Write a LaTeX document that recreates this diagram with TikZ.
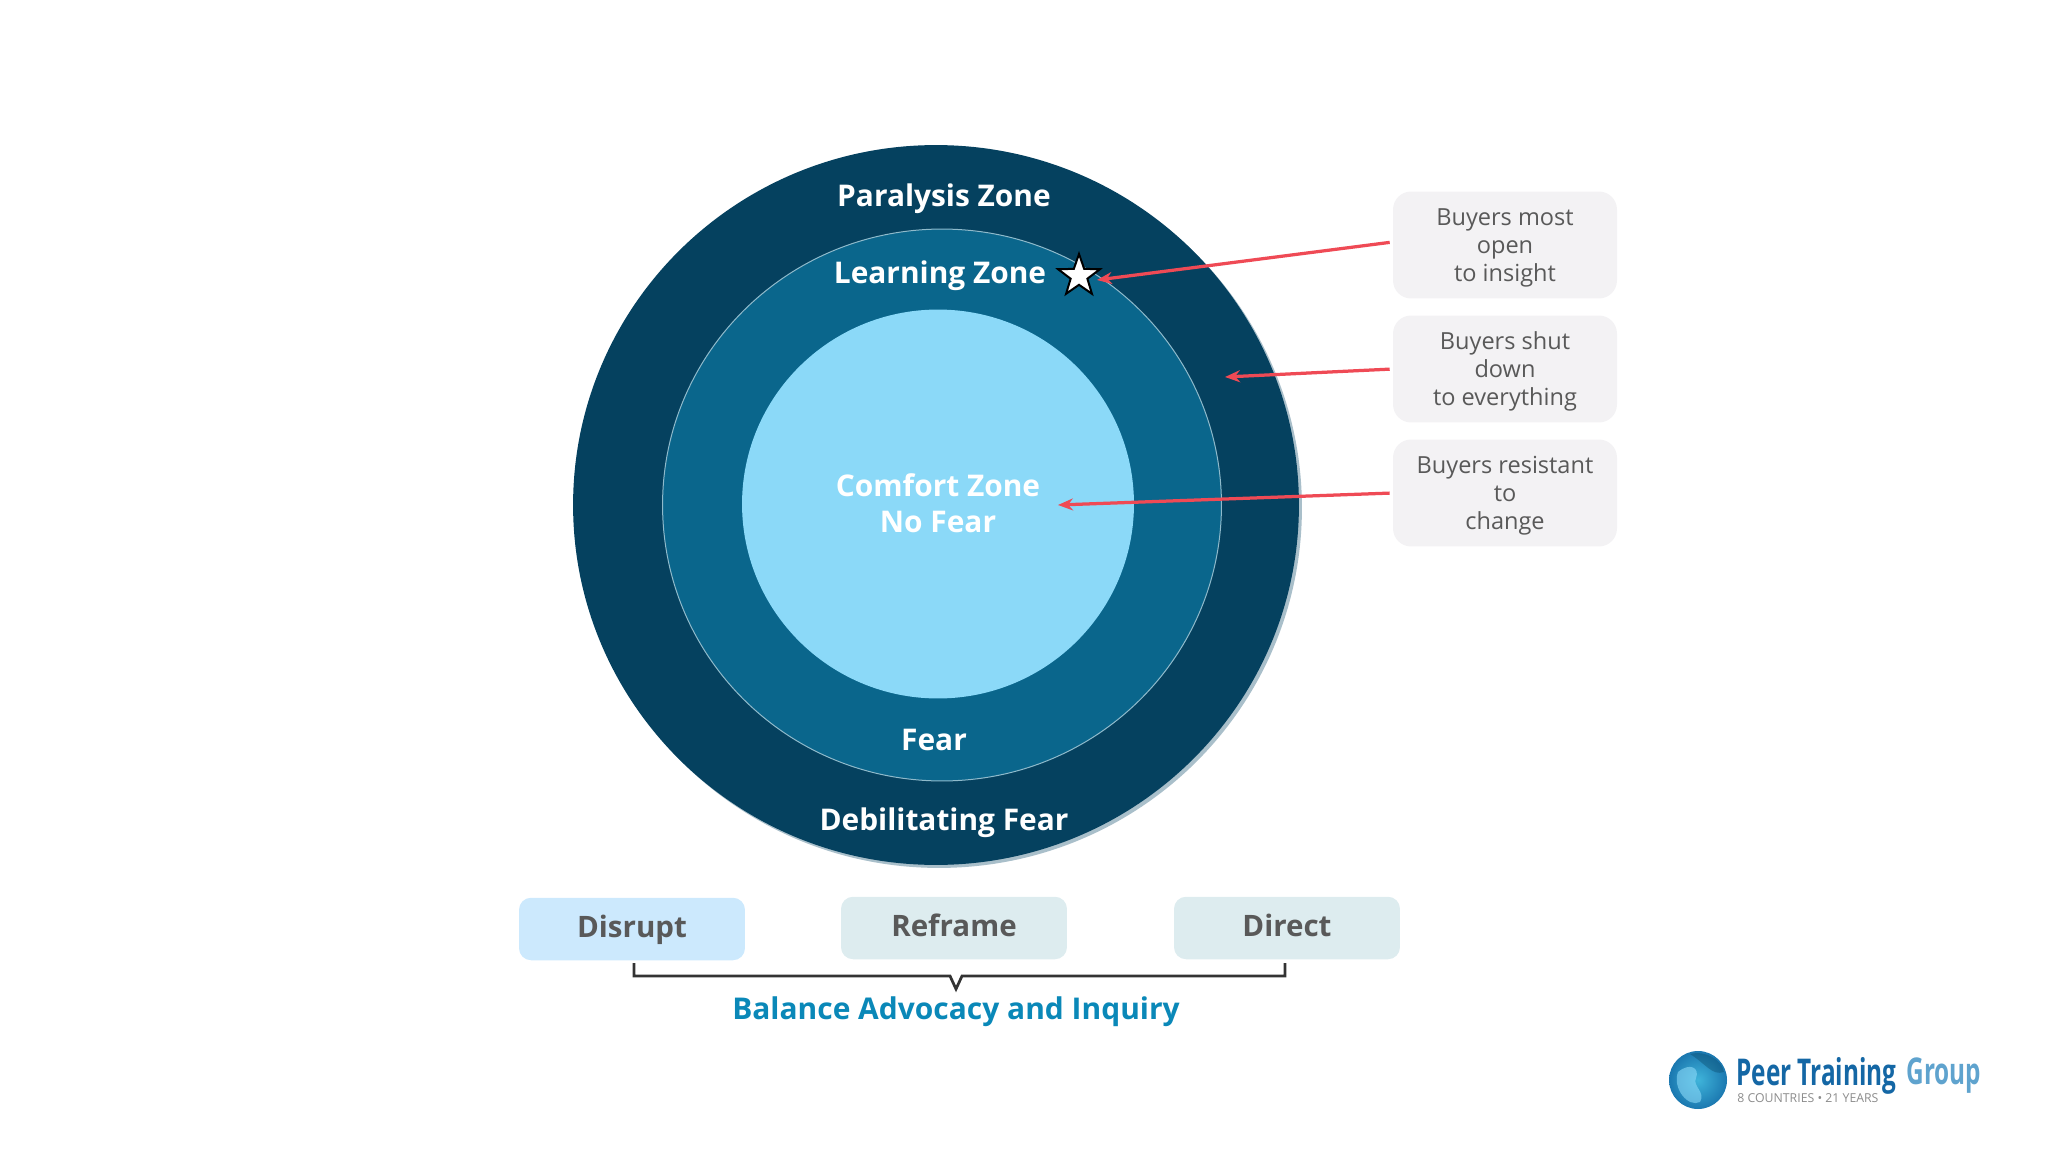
\documentclass[tikz,border=0pt]{standalone}
\usepackage{fontspec}
\usepackage{xcolor}
\usepackage{tikz}
\usetikzlibrary{calc,arrows.meta,shapes.geometric}
\setmainfont{Open Sans}
\newfontfamily\logofont[FakeStretch=0.66]{Open Sans}
\definecolor{outerzone}{HTML}{05415F}
\definecolor{midzone}{HTML}{0A668C}
\definecolor{innerzone}{HTML}{8BD9F8}
\definecolor{ringline}{HTML}{8FBACB}
\definecolor{ringshadow}{HTML}{A9BFCA}
\definecolor{notebg}{HTML}{F3F2F4}
\definecolor{disruptbg}{HTML}{CCE9FD}
\definecolor{movebg}{HTML}{DDECEF}
\definecolor{greytext}{HTML}{595959}
\definecolor{balance}{HTML}{0A88B8}
\definecolor{redline}{HTML}{EF4A55}
\definecolor{bracket}{HTML}{333333}
\definecolor{logodark}{HTML}{1467A5}
\definecolor{logolight}{HTML}{5FA3CE}
\definecolor{logogrey}{HTML}{8C8C8C}
\definecolor{globein}{HTML}{3FB4DA}
\definecolor{globeout}{HTML}{1B78B0}
\tikzset{
  zone/.style={ellipse, inner sep=0pt},
  zonelab/.style={text=white, font=\fontsize{17}{20.5}\selectfont\bfseries, align=center},
  note/.style={rounded corners=0.36cm, fill=notebg, minimum width=4.48cm, minimum height=2.14cm, inner sep=0pt},
  notelab/.style={text=greytext, font=\fontsize{13.4}{16}\selectfont, align=center},
  move/.style={rounded corners=0.24cm, minimum width=4.52cm, minimum height=1.25cm, inner sep=0pt},
  movelab/.style={text=greytext, font=\fontsize{16.8}{20}\selectfont\bfseries},
  pointer/.style={draw=redline, line width=0.065cm, -{Stealth[length=0.3cm,width=0.24cm]}, shorten <=0.06cm},
}
\begin{document}
\begin{tikzpicture}[x=0.02cm,y=-0.02cm]
  \useasboundingbox (0,0) rectangle (2048,1152);

  \node[zone, fill=ringshadow, minimum width=14.52cm, minimum height=14.4cm] (shadowzone) at (939,508) {};
  \node[zone, fill=outerzone, minimum width=14.52cm, minimum height=14.4cm] (paralysis) at (936,505) {};
  \node[zone, fill=midzone, draw=ringline, line width=0.02cm, minimum width=11.18cm, minimum height=11.04cm] (learning) at (942,505) {};
  \node[zone, fill=innerzone, minimum width=7.84cm, minimum height=7.78cm] (comfort) at (938,504) {};

  \node[zonelab] (paralysislab) at (944,199) {Paralysis Zone};
  \node[zonelab] (learninglab) at (940,276) {Learning Zone};
  \node[zonelab] (comfortlab) at (938,503) {Comfort Zone\\No Fear};
  \node[zonelab] (fearlab) at (934,740) {Fear};
  \node[zonelab] (debilitatinglab) at (944,823) {Debilitating Fear};

  \node[star, star points=5, star point ratio=2.5, draw=black, fill=white, line width=0.04cm,
    minimum size=0.88cm, inner sep=0pt] (learnstar) at (1079,276) {};

  \node[note] (noteopen) at (1505,245) {};
  \node[note] (noteshut) at (1505,369) {};
  \node[note] (noteresist) at (1505,493) {};
  \node[notelab] (openlab) at (1505,248) {Buyers most\\open\\to insight};
  \node[notelab] (shutlab) at (1505,371) {Buyers shut\\down\\to everything};
  \node[notelab] (resistlab) at (1505,496) {Buyers resistant\\to\\change};

  \coordinate (tipopen) at (1097,280);
  \coordinate (tipshut) at (1225,377);
  \coordinate (tipresist) at (1058,505);
  \draw[pointer] ($(noteopen.west)+(0,-3)$) -- (tipopen);
  \draw[pointer] (noteshut.west) -- (tipshut);
  \draw[pointer] (noteresist.west) -- (tipresist);

  \node[move, fill=disruptbg] (disrupt) at (632,929) {};
  \node[move, fill=movebg] (reframe) at (954,928) {};
  \node[move, fill=movebg] (direct) at (1287,928) {};
  \node[movelab] (disruptlab) at (632,930) {Disrupt};
  \node[movelab] (reframelab) at (954,925) {Reframe};
  \node[movelab] (directlab) at (1287,925) {Direct};

  % bracket under the three moves
  \coordinate (brackleft) at (634,963);
  \coordinate (brackright) at (1285,963);
  \coordinate (bracktip) at (956,989);
  \draw[draw=bracket, line width=0.055cm, line join=miter]
    (brackleft) -- (634,976) -- (950,976) -- (bracktip) -- (962,976) -- (1285,976) -- (brackright);
  \node[text=balance, font=\fontsize{17.05}{20}\selectfont\bfseries] (balancelab) at (956,1012) {Balance Advocacy and Inquiry};

  % logo
  \node[circle, inner sep=0pt, inner color=globein, outer color=globeout, minimum size=1.16cm] (logoglobe) at (1698,1080) {};
  \fill[innerzone, opacity=0.6] (1678,1072) .. controls (1690,1062) and (1700,1068) .. (1696,1078)
    .. controls (1692,1086) and (1706,1092) .. (1700,1102) .. controls (1688,1108) and (1672,1088) .. cycle;
  \fill[outerzone, opacity=0.35] (1690,1054) .. controls (1706,1050) and (1722,1060) .. (1724,1072)
    .. controls (1712,1076) and (1706,1064) .. cycle;
  \node[anchor=west, inner sep=0pt, text=logodark, font=\logofont\fontsize{21}{23}\selectfont\bfseries] (logopeer) at (1736,1076) {Peer Training};
  \node[anchor=west, inner sep=0pt, text=logolight, font=\logofont\fontsize{21}{23}\selectfont\bfseries] (logogroup) at (1906,1076) {Group};
  \node[anchor=west, inner sep=0pt, text=logogrey, font=\fontsize{7}{8}\selectfont] (logosub) at (1737,1098) {8 COUNTRIES • 21 YEARS};
\end{tikzpicture}
\end{document}
